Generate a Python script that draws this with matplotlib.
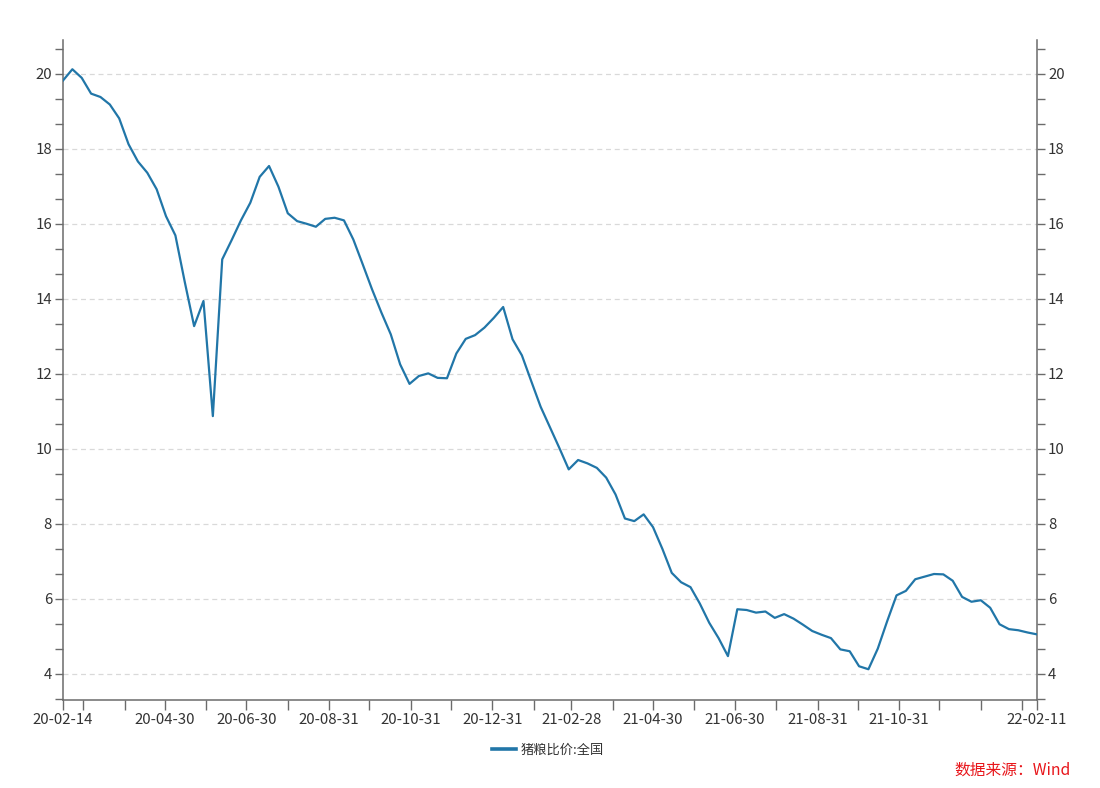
"""猪粮比价:全国 weekly line chart (Wind style), mirrored y-axis on both sides."""

import matplotlib

matplotlib.use("Agg")
import matplotlib.dates as mdates
import matplotlib.pyplot as plt
import pandas as pd
from matplotlib.ticker import AutoMinorLocator, FixedLocator, MultipleLocator

plt.rcParams["font.family"] = ["Noto Sans CJK SC", "DejaVu Sans"]

# weekly observations, 2020-02-14 .. 2022-02-11
DATES = pd.date_range("2020-02-14", "2022-02-11", freq="7D")
VALUES = [
    19.82, 20.12, 19.89, 19.47, 19.38, 19.18, 18.81, 18.12, 17.66, 17.36,
    16.92, 16.20, 15.69, 14.45, 13.27, 13.94, 10.87, 15.05, 15.56, 16.09,
    16.56, 17.25, 17.54, 16.99, 16.28, 16.07, 16.00, 15.92, 16.13, 16.16,
    16.09, 15.58, 14.92, 14.25, 13.63, 13.05, 12.25, 11.73, 11.94, 12.01,
    11.89, 11.88, 12.54, 12.93, 13.03, 13.23, 13.49, 13.78, 12.92, 12.49,
    11.80, 11.12, 10.57, 10.02, 9.45, 9.70, 9.61, 9.49, 9.23, 8.78,
    8.14, 8.07, 8.25, 7.91, 7.33, 6.69, 6.44, 6.31, 5.87, 5.36,
    4.95, 4.47, 5.72, 5.70, 5.63, 5.66, 5.49, 5.59, 5.47, 5.31,
    5.14, 5.04, 4.95, 4.65, 4.60, 4.20, 4.12, 4.67, 5.40, 6.09,
    6.21, 6.52, 6.59, 6.66, 6.65, 6.48, 6.05, 5.92, 5.96, 5.76,
    5.32, 5.19, 5.16, 5.10, 5.05,
]
SERIES_NAME = "猪粮比价:全国"
SOURCE = "数据来源：Wind"

LABELED = ["2020-02-14", "2020-04-30", "2020-06-30", "2020-08-31", "2020-10-31",
           "2020-12-31", "2021-02-28", "2021-04-30", "2021-06-30", "2021-08-31",
           "2021-10-31", "2022-02-11"]

LINE = "#2176a8"
AXIS = "#6b6b6b"
TEXT = "#333333"

W, H = 1100, 788
fig = plt.figure(figsize=(W / 100, H / 100), dpi=100)
ax = fig.add_axes([63 / W, (H - 700) / H, 974 / W, 660 / H])

ax.plot(DATES, VALUES, color=LINE, linewidth=1.6, label=SERIES_NAME, zorder=3)

ax.set_xlim(DATES[0], DATES[-1])
ax.set_ylim(3.3, 20.9)

# x ticks: every month end + first/last date, labels on a subset
month_ends = pd.date_range("2020-02-29", "2022-01-31", freq="ME")
tick_dates = sorted(set([DATES[0], DATES[-1]] + list(month_ends)))
labeled = set(pd.to_datetime(LABELED))
ax.xaxis.set_major_locator(FixedLocator(mdates.date2num(tick_dates)))
ax.set_xticklabels([d.strftime("%y-%m-%d") if d in labeled else "" for d in tick_dates])

ax.yaxis.set_major_locator(MultipleLocator(2))
ax.yaxis.set_minor_locator(AutoMinorLocator(3))
ax.yaxis.grid(True, which="major", color="#d9d9d9", linestyle=(0, (4, 3)), linewidth=0.9)
ax.set_axisbelow(True)

ax.tick_params(axis="x", direction="out", length=7, width=1, color=AXIS,
               labelsize=10.8, labelcolor=TEXT, pad=2.5)
ax.tick_params(axis="y", which="both", direction="out", length=6, width=1, color=AXIS,
               left=True, right=True, labelleft=True, labelright=True,
               labelsize=10.8, labelcolor=TEXT, pad=2)

for side in ("left", "right", "bottom"):
    ax.spines[side].set_color(AXIS)
    ax.spines[side].set_linewidth(1.1)
ax.spines["top"].set_visible(False)

fig.legend(loc="center", bbox_to_anchor=(548 / W, 1 - 750 / H), frameon=False,
           fontsize=9.5, handlelength=1.8, handletextpad=0.4, labelcolor=TEXT)
for h in fig.legends[0].legend_handles:
    h.set_linewidth(2.6)

fig.text(1071 / W, 1 - 770 / H, SOURCE, ha="right", va="center",
         color="#e8161b", fontsize=11.3)

fig.savefig("out.png", dpi=100)
